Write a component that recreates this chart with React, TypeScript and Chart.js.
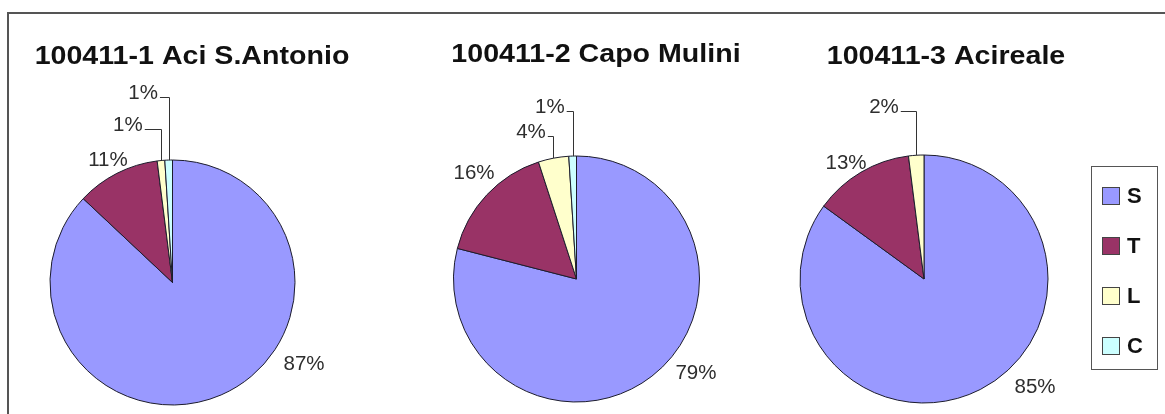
import React, { useEffect, useRef } from "react";
import { Chart, registerables } from "chart.js";

Chart.register(...registerables);

// ---------- data ----------
const categories = ["S", "T", "L", "C"];
const siteTitles = ["100411-1 Aci S.Antonio", "100411-2 Capo Mulini", "100411-3 Acireale"];
const site1Values = [87, 11, 1, 1];
const site2Values = [79, 16, 4, 1];
const site3Values = [85, 13, 2, 0];
const seriesValues = [site1Values, site2Values, site3Values];

// ---------- styles / layout ----------
const sliceColors = ["#9999FF", "#993366", "#FFFFCC", "#CCFFFF"];
const PAGE_W = 1165;
const PAGE_H = 414;
const pieLayout = [
  { cx: 172.5, cy: 282.5, r: 122.5, titleX: 192, titleY: 64 },
  { cx: 576.5, cy: 279, r: 123, titleX: 596, titleY: 62 },
  { cx: 924, cy: 279, r: 124, titleX: 946, titleY: 64 },
];
// label anchor per slice: [angle in degrees clockwise from 12 o'clock, distance / radius]
const labelAnchors = [
  [[121.8, 1.263], [332.2, 1.13], [344.2, 1.336], [351.2, 1.566]],
  [[128.2, 1.236], [316, 1.199], [342.8, 1.251], [351.2, 1.415]],
  [[134.2, 1.249], [326.1, 1.127], [346.9, 1.424], [0, 1.5]],
];

const pieLabels = {
  id: "pieLabels",
  afterDatasetsDraw(chart: any, _args: any, opts: any) {
    const ctx = chart.ctx as CanvasRenderingContext2D;
    const meta = chart.getDatasetMeta(0);
    const values = chart.data.datasets[0].data as number[];
    const total = values.reduce((a, b) => a + b, 0);
    ctx.save();
    ctx.font = "20.5px 'Liberation Sans', Arial, sans-serif";
    ctx.fillStyle = "#2e2e2e";
    ctx.textAlign = "center";
    ctx.textBaseline = "middle";
    meta.data.forEach((arc: any, i: number) => {
      const v = values[i];
      if (!v) return;
      const { x, y, startAngle, endAngle, outerRadius } = arc.getProps(
        ["x", "y", "startAngle", "endAngle", "outerRadius"],
        true
      );
      const [deg, k] = opts.anchors[i];
      const a = (deg * Math.PI) / 180 - Math.PI / 2;
      const lx = x + Math.cos(a) * outerRadius * k;
      const ly = y + Math.sin(a) * outerRadius * k;
      const text = Math.round((v / total) * 100) + "%";
      ctx.fillText(text, lx, ly);
      if (v / total < 0.05) {
        const mid = (startAngle + endAngle) / 2;
        const ex = Math.round(x + Math.cos(mid) * outerRadius) + 0.5;
        const ey = y + Math.sin(mid) * outerRadius;
        const tw = ctx.measureText(text).width;
        const hy = Math.round(ly + 4) + 0.5;
        ctx.beginPath();
        ctx.moveTo(lx + tw / 2 + 2, hy);
        ctx.lineTo(ex, hy);
        ctx.lineTo(ex, ey);
        ctx.strokeStyle = "#333333";
        ctx.lineWidth = 1;
        ctx.stroke();
      }
    });
    ctx.restore();
  },
};

const siteTitle = {
  id: "siteTitle",
  afterDraw(chart: any, _args: any, opts: any) {
    const ctx = chart.ctx as CanvasRenderingContext2D;
    ctx.save();
    ctx.font = "bold 26px 'Liberation Sans', Arial, sans-serif";
    ctx.fillStyle = "#111111";
    ctx.textAlign = "center";
    ctx.textBaseline = "alphabetic";
    ctx.translate(opts.x, opts.y);
    ctx.scale(1.1, 1);
    ctx.fillText(opts.text, 0, 0);
    ctx.restore();
  },
};

function PieCanvas({ idx }: { idx: number }) {
  const ref = useRef<HTMLCanvasElement | null>(null);
  useEffect(() => {
    const p = pieLayout[idx];
    const chart = new Chart(ref.current as HTMLCanvasElement, {
      type: "pie",
      data: {
        labels: categories,
        datasets: [
          {
            data: seriesValues[idx],
            backgroundColor: sliceColors,
            borderColor: "#1c1c2c",
            borderWidth: 1,
            radius: p.r,
          } as any,
        ],
      },
      options: {
        responsive: false,
        animation: false,
        events: [],
        layout: {
          padding: {
            left: p.cx - p.r - 2,
            right: PAGE_W - p.cx - p.r - 2,
            top: p.cy - p.r - 2,
            bottom: PAGE_H - p.cy - p.r - 2,
          },
        },
        plugins: {
          legend: { display: false },
          tooltip: { enabled: false },
          title: { display: false },
          pieLabels: { anchors: labelAnchors[idx] },
          siteTitle: { text: siteTitles[idx], x: p.titleX, y: p.titleY },
        } as any,
      },
      plugins: [pieLabels, siteTitle],
    });
    return () => chart.destroy();
  }, [idx]);
  return (
    <canvas
      ref={ref}
      width={PAGE_W}
      height={PAGE_H}
      style={{ position: "absolute", left: 0, top: 0, width: PAGE_W, height: PAGE_H }}
    />
  );
}

export default function App() {
  return (
    <div
      style={{
        position: "absolute",
        left: 0,
        top: 0,
        width: PAGE_W,
        height: PAGE_H,
        background: "#ffffff",
        overflow: "hidden",
        fontFamily: "'Liberation Sans', Arial, sans-serif",
      }}
    >
      <div
        style={{
          position: "absolute",
          left: 7,
          top: 12,
          width: PAGE_W - 7,
          height: PAGE_H - 12,
          boxSizing: "border-box",
          borderTop: "2px solid #555555",
          borderLeft: "2px solid #555555",
        }}
      />
      {seriesValues.map((_, i) => (
        <PieCanvas key={i} idx={i} />
      ))}
      <div
        style={{
          position: "absolute",
          left: 1091,
          top: 166,
          width: 67,
          height: 204,
          boxSizing: "border-box",
          border: "1px solid #555555",
        }}
      >
        {categories.map((c, i) => (
          <div
            key={c}
            style={{
              position: "absolute",
              left: 10,
              top: 19 + i * 50,
              height: 20,
              display: "flex",
              alignItems: "center",
            }}
          >
            <span
              style={{
                display: "inline-block",
                width: 18,
                height: 18,
                boxSizing: "border-box",
                background: sliceColors[i],
                border: "1px solid #444444",
              }}
            />
            <span
              style={{
                marginLeft: 7,
                fontWeight: "bold",
                fontSize: 22,
                lineHeight: "20px",
                color: "#111111",
              }}
            >
              {c}
            </span>
          </div>
        ))}
      </div>
    </div>
  );
}
